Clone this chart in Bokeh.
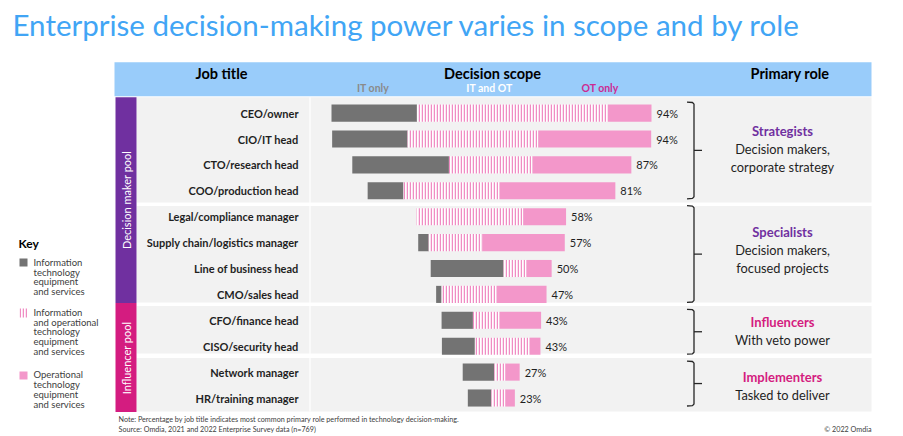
from bokeh.plotting import figure
from bokeh.models import Range1d, ColumnDataSource
from bokeh.core.properties import value
from bokeh.embed import file_html
from bokeh.resources import INLINE
import numpy as np

# ---------------- data ----------------
titles = ["CEO/owner", "CIO/IT head", "CTO/research head", "COO/production head",
          "Legal/compliance manager", "Supply chain/logistics manager",
          "Line of business head", "CMO/sales head",
          "CFO/finance head", "CISO/security head",
          "Network manager", "HR/training manager"]
# where each bar starts and the three stacked scopes (share of respondents, %)
start   = [0.0, 0.2, 6.5, 11.3, 26.6, 27.1, 31.0, 32.7, 34.4, 34.5, 41.0, 42.6]
it_only = [26.7, 23.6, 30.2, 11.2, 0.0, 3.3, 22.8, 1.7, 9.8, 10.3, 9.9, 7.4]
it_ot   = [59.7, 40.8, 26.1, 30.0, 33.3, 16.7, 7.1, 17.2, 8.3, 17.1, 3.4, 4.3]
ot_only = [13.6, 35.3, 30.9, 36.2, 13.4, 25.8, 7.9, 15.6, 13.0, 3.4, 4.5, 3.0]
pct     = [94, 94, 87, 81, 58, 57, 50, 47, 43, 43, 27, 23]

role_names = ["Strategists", "Specialists", "Influencers", "Implementers"]
role_desc = [["Decision makers,", "corporate strategy"],
             ["Decision makers,", "focused projects"],
             ["With veto power"],
             ["Tasked to deliver"]]
role_rows = [(0, 3), (4, 7), (8, 9), (10, 11)]
pools = ["Decision maker pool", "Influencer pool"]

FONT = value("Lato")
DARK = "#1f1f1f"
PURPLE = "#7030A0"
MAGENTA = "#D41C80"
GREY_BAR = "#737373"
PINK = "#F397CA"
HATCH_PINK = "#F08CC3"
PANEL = "#F2F2F2"

W, H = 903, 436
OX, OY = 0, 0
PX_PER_PCT = 3.2
X0_PAGE = 331.0
ROW0_PAGE = 112.6
ROW_H = 25.9


def px2x(px):
    return (px - X0_PAGE) / PX_PER_PCT


def row2py(r):
    return ROW0_PAGE + ROW_H * r


p = figure(width=W, height=H,
           x_range=Range1d(px2x(OX), px2x(OX + W)),
           y_range=Range1d((OY + H - ROW0_PAGE) / ROW_H, (OY - ROW0_PAGE) / ROW_H),
           output_backend="svg", toolbar_location=None, min_border=0,
           x_axis_location=None, y_axis_location=None)
p.grid.visible = False
p.outline_line_color = None
p.background_fill_color = "white"
p.border_fill_color = "white"
p.extra_x_ranges = {"px": Range1d(OX, OX + W)}
p.extra_y_ranges = {"py": Range1d(OY + H, OY)}

PXY = dict(x_range_name="px", y_range_name="py")


def txt(x, y, s, size, color=DARK, style="normal", align="left", angle=0.0):
    p.text(x=[x], y=[y], text=[s], text_font=FONT, text_font_size=f"{size}px",
           text_font_style=style, text_color=color, text_align=align,
           text_baseline="middle", angle=angle, **PXY)


# ---------------- title ----------------
txt(12, 24, "Enterprise decision-making power varies in scope and by role", 29.5, color="#41A5F5")

# ---------------- header band ----------------
p.quad(left=[114], right=[871], top=[61.7], bottom=[95.7], fill_color="#99CCFA",
       line_color=None, **PXY)
txt(221, 72.5, "Job title", 14.5, color="black", style="bold", align="center")
txt(492, 72.5, "Decision scope", 14.5, color="black", style="bold", align="center")
txt(789.5, 72.5, "Primary role", 14.5, color="black", style="bold", align="center")
txt(372.5, 87.8, "IT only", 10.5, color="#8A8A8A", style="bold", align="center")
txt(489, 87.8, "IT and OT", 10.5, color="white", style="bold", align="center")
txt(599.5, 87.8, "OT only", 10.5, color="#CC2A92", style="bold", align="center")

# ---------------- grey panels per role group ----------------
panel_top = [96.7, 205.5, 305.5, 357.5]
panel_bot = [202.0, 302.0, 353.0, 411.0]
p.quad(left=[136] * 4, right=[871] * 4, top=panel_top, bottom=panel_bot,
       fill_color=PANEL, line_color=None, **PXY)
p.segment(x0=[309.5], x1=[309.5], y0=[96.7], y1=[411.0], line_color="white",
          line_width=1.2, **PXY)

# pool bands
p.quad(left=[115, 115], right=[136, 136], top=[96.7, 302.5], bottom=[302.5, 411.5],
       fill_color=[PURPLE, MAGENTA], line_color=None, **PXY)
txt(125.8, 199.5, pools[0], 11, color="white", align="center", angle=np.pi / 2)
txt(125.8, 357.5, pools[1], 11, color="white", align="center", angle=np.pi / 2)

# ---------------- job titles ----------------
rows = list(range(len(titles)))
p.text(x=[298] * len(titles), y=rows, text=titles, text_font=FONT,
       text_font_size="11px", text_font_style="bold", text_color=DARK,
       text_align="right", text_baseline="middle", x_range_name="px")

# ---------------- bars ----------------
s = np.array(start)
a = np.array(it_only)
b = np.array(it_ot)
c = np.array(ot_only)
src = ColumnDataSource(dict(y=rows, s=s, e1=s + a, e2=s + a + b, e3=s + a + b + c,
                            lab=[f"{v}%" for v in pct]))
BH = 0.66
p.hbar(y="y", left="s", right="e1", height=BH, fill_color=GREY_BAR, line_color=None, source=src)
p.hbar(y="y", left="e1", right="e2", height=BH, fill_color="white",
       hatch_pattern="vertical_line", hatch_color=HATCH_PINK, hatch_scale=3.0,
       hatch_weight=1.5, line_color=None, source=src)
p.hbar(y="y", left="e2", right="e3", height=BH, fill_color=PINK, line_color=None, source=src)
p.text(x="e3", y="y", text="lab", x_offset=5, source=src, text_font=FONT,
       text_font_size="11px", text_color=DARK, text_baseline="middle", text_align="left")

# ---------------- brackets + roles ----------------
bx, bl, bt = 693.5, 686.5, 701.5
xs, ys = [], []
for (r0, r1) in role_rows:
    top = row2py(r0) - 11
    bot = row2py(r1) + 8
    mid = (top + bot) / 2
    xs.append([bl, bx - 1.5, bx, bx, bx - 1.5, bl])
    ys.append([top, top + 0.4, top + 2, bot - 2, bot - 0.4, bot])
    xs.append([bx, bt])
    ys.append([mid, mid])
p.multi_line(xs=xs, ys=ys, line_color="#262626", line_width=1.3, **PXY)

role_colors = [PURPLE, PURPLE, MAGENTA, MAGENTA]
role_first_y = [130.7, 231.7, 321.0, 376.0]
for name, desc, col, y0 in zip(role_names, role_desc, role_colors, role_first_y):
    txt(782, y0, name, 13, color=col, style="bold", align="center")
    for k, line in enumerate(desc):
        txt(782, y0 + 18 * (k + 1), line, 12.8, color=DARK, align="center")

# ---------------- key ----------------
txt(18, 243, "Key", 12, color="black", style="bold")
p.quad(left=[19], right=[27], top=[258], bottom=[266], fill_color=GREY_BAR,
       line_color=None, **PXY)
p.quad(left=[19], right=[27.5], top=[308], bottom=[317], fill_color="white",
       hatch_pattern="vertical_line", hatch_color=HATCH_PINK, hatch_scale=3.0,
       hatch_weight=1.5, line_color=None, **PXY)
p.quad(left=[19], right=[27], top=[371], bottom=[379], fill_color=PINK,
       line_color=None, **PXY)
key_texts = [["Information", "technology", "equipment", "and services"],
             ["Information", "and operational", "technology", "equipment", "and services"],
             ["Operational", "technology", "equipment", "and services"]]
key_y0 = [261.7, 311.7, 374.3]
for lines, y0 in zip(key_texts, key_y0):
    for k, line in enumerate(lines):
        txt(33, y0 + 9.8 * k, line, 9.5, color="#404040")

# ---------------- footer ----------------
txt(118, 419, "Note: Percentage by job title indicates most common primary role performed in technology decision-making.", 7.2, color="#404040")
txt(118, 428.5, "Source: Omdia, 2021 and 2022 Enterprise Survey data (n=769)", 7.2, color="#404040")
txt(871, 428.5, "\u00a9 2022 Omdia", 7.2, color="#404040", align="right")

open("out.html", "w").write(file_html(p, INLINE))
